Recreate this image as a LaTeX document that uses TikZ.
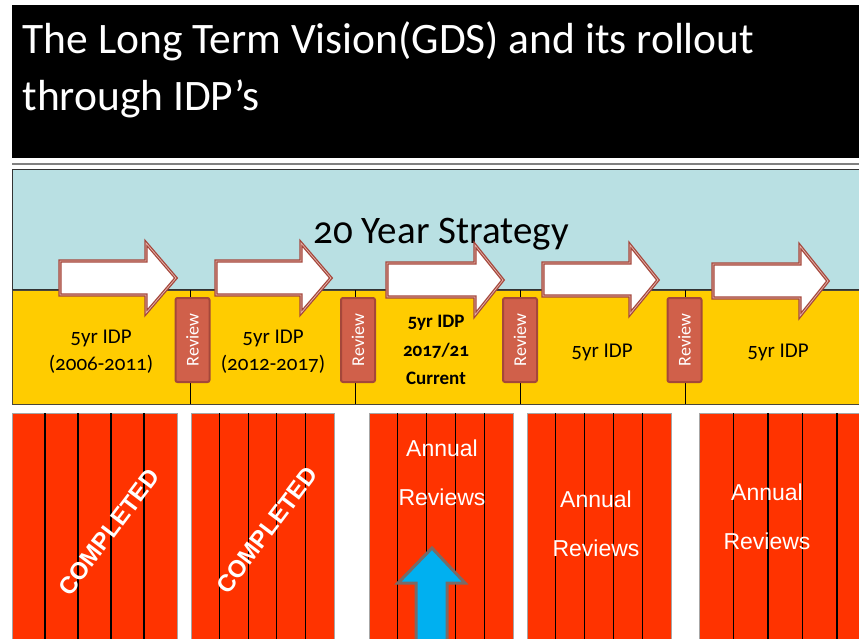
\documentclass[tikz,border=0pt]{standalone}
\usepackage{fontspec}
\setmainfont{Carlito}[Numbers=OldStyle]
\newfontfamily\arialfont{Liberation Sans}
\usepackage{tikz}

\definecolor{stratblue}{RGB}{185,224,227}
\definecolor{idpyellow}{RGB}{255,204,0}
\definecolor{reviewred}{RGB}{208,96,74}
\definecolor{reviewedge}{RGB}{164,71,58}
\definecolor{arrowred}{RGB}{165,71,60}
\definecolor{arrowpink}{RGB}{231,185,176}
\definecolor{yearred}{RGB}{255,51,0}
\definecolor{nowcyan}{RGB}{0,176,240}
\definecolor{nowedge}{RGB}{122,106,102}

\tikzset{
  titletext/.style={text=white, inner sep=0pt, anchor=base west, font=\fontsize{43.5}{57}\selectfont},
  idplabel/.style={inner sep=0pt, align=center, font=\fontsize{21}{27}\selectfont},
  reviewbox/.style={fill=reviewred, draw=reviewedge, line width=2pt, rounded corners=2pt, rotate=90,
                    minimum width=84pt, minimum height=34pt, inner sep=0pt, text=white,
                    font=\fontsize{18}{18}\selectfont},
  idparrow/.style={fill=white, draw=arrowred, double=arrowpink, double distance=0.7pt, line width=1.3pt},
  annualtext/.style={text=white, inner sep=0pt, align=center, font=\arialfont\fontsize{23}{49}\selectfont},
  completedtext/.style={text=white, inner sep=0pt, rotate=53, font=\arialfont\bfseries\fontsize{24}{24}\selectfont},
}

\begin{document}
\begin{tikzpicture}[x=1pt, y=-1pt, line width=1pt]
    \useasboundingbox (0,0) rectangle (859,638);
    \clip (0,0) rectangle (859,638);

    % draw title bar
    \fill[black] (12,5) rectangle (859,158);
    \node[titletext] (title1) at (22,53) {The Long Term Vision(GDS) and its rollout};
    \node[titletext] (title2) at (22,110) {through IDP’s};
    \draw[gray, line width=1.5pt] (12,164) -- (859,164);

    % draw strategy band and idp band
    \filldraw[fill=stratblue, draw=black!80] (12,169) rectangle (862,289);
    \filldraw[fill=idpyellow, draw=black!70!yellow!60!black] (12,290) rectangle (862,404);
    \node[anchor=base, inner sep=0pt, font=\fontsize{39}{39}\selectfont] (strategy) at (441,243) {20 Year Strategy};

    % draw idp dividers
    \draw (190.7,290) -- (190.7,404);
    \draw (355,290) -- (355,404);
    \draw (520,290) -- (520,404);
    \draw (685,290) -- (685,404);

    % draw idp labels
    \node[idplabel] (idp1) at (101,352) {5yr IDP\\(2006-2011)};
    \node[idplabel] (idp2) at (273,352) {5yr IDP\\(2012-2017)};
    \node[idplabel, font=\bfseries\fontsize{19}{28.5}\selectfont] (idp3) at (436,350) {5yr IDP\\2017/21\\Current};
    \node[idplabel, anchor=base] (idp4) at (602,357) {5yr IDP};
    \node[idplabel, anchor=base] (idp5) at (778,357) {5yr IDP};

    % draw review boxes
    \node[reviewbox] (rev1) at (192.5,340) {Review};
    \node[reviewbox] (rev2) at (358,340) {Review};
    \node[reviewbox] (rev3) at (520,340) {Review};
    \node[reviewbox] (rev4) at (684.5,340) {Review};

    % draw block arrows
    \filldraw[idparrow] (60,261) -- (146,261) -- (146,243) -- (176,278) -- (146,313) -- (146,295) -- (60,295) -- cycle;
    \filldraw[idparrow] (216,261) -- (301,261) -- (301,243) -- (331,278) -- (301,313) -- (301,295) -- (216,295) -- cycle;
    \filldraw[idparrow] (387,263) -- (475,263) -- (475,245) -- (503,280) -- (475,315) -- (475,297) -- (387,297) -- cycle;
    \filldraw[idparrow] (543,263) -- (630,263) -- (630,245) -- (658,280) -- (630,314) -- (630,296) -- (543,296) -- cycle;
    \filldraw[idparrow] (713,264) -- (800,264) -- (800,246) -- (828,281) -- (800,316) -- (800,298) -- (713,298) -- cycle;

    % draw annual review columns
    \foreach \x/\w in {12/33, 191/28.6, 369/28.8, 527/28.8, 699/34.5} {
      \filldraw[fill=yearred, draw=gray!70] (\x,413) rectangle ({\x+5*\w},645);
      \foreach \i in {1,...,4}
        \draw[black, line width=1.2pt] ({\x+\i*\w},413) -- ({\x+\i*\w},645);
    }

    % draw column texts
    \node[completedtext] (done1) at (109,532) {COMPLETED};
    \node[completedtext] (done2) at (267,530) {COMPLETED};
    \node[annualtext] (annual3) at (442,473) {Annual\\Reviews};
    \node[annualtext] (annual4) at (596,524) {Annual\\Reviews};
    \node[annualtext] (annual5) at (767,517) {Annual\\Reviews};

    % draw current marker
    \filldraw[fill=nowcyan, draw=nowedge, line width=3pt]
       (432,548) -- (465,583) -- (447,583) -- (447,650) -- (416,650) -- (416,583) -- (398,583) -- cycle;
\end{tikzpicture}
\end{document}
